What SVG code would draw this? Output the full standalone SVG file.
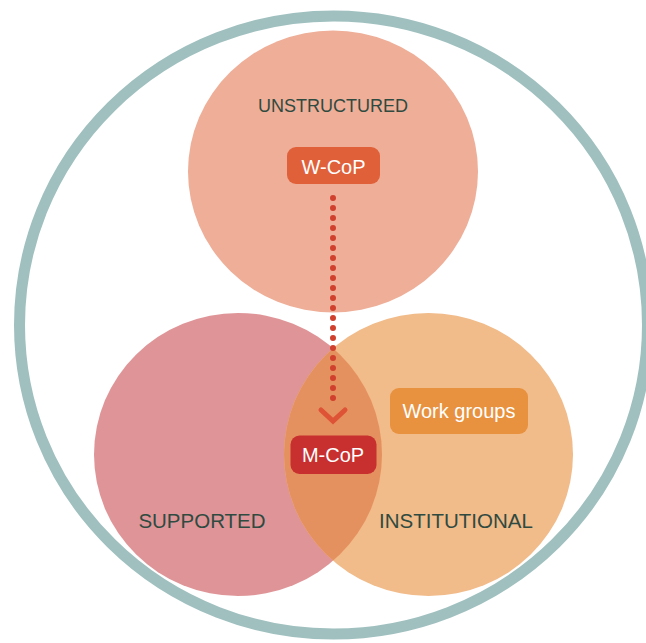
<svg xmlns="http://www.w3.org/2000/svg" width="646" height="643" viewBox="0 0 646 643">
<defs>
<style>
.lbl{font-family:"Liberation Sans",Arial,sans-serif;fill:#2f4a40;text-anchor:middle}
.btxt{font-family:"Liberation Sans",Arial,sans-serif;fill:#ffffff;text-anchor:middle;font-size:20px}
</style>
<clipPath id="clipRight"><ellipse cx="428.5" cy="454.5" rx="144.5" ry="141.5"/></clipPath>
</defs>
<rect width="646" height="643" fill="#ffffff"/>
<g id="outer"><ellipse cx="333.5" cy="325" rx="314" ry="309" fill="none" stroke="#9fc0bf" stroke-width="11"/></g>
<g id="unstructured">
<ellipse cx="333" cy="171.5" rx="145" ry="141" fill="#eeae98"/>
<text class="lbl" x="333" y="112" font-size="18">UNSTRUCTURED</text>
</g>
<g id="supported">
<ellipse cx="238" cy="454.5" rx="144" ry="141.5" fill="#df9598"/>
<text class="lbl" x="202" y="528" font-size="20.5">SUPPORTED</text>
</g>
<g id="institutional">
<ellipse cx="428.5" cy="454.5" rx="144.5" ry="141.5" fill="#f1bb8a"/>
<text class="lbl" x="456" y="528" font-size="20.5">INSTITUTIONAL</text>
</g>
<g id="overlap">
<ellipse cx="238" cy="454.5" rx="144" ry="141.5" fill="#e5915f" clip-path="url(#clipRight)"/>
</g>
<g id="connectors">
<line x1="333" y1="198" x2="333" y2="408" stroke="#d0402c" stroke-width="6" stroke-linecap="round" stroke-dasharray="0 10"/>
<polyline points="321,410 333,421 345,410" fill="none" stroke="#de5236" stroke-width="5" stroke-linecap="round" stroke-linejoin="miter"/>
</g>
<g id="wcop">
<rect x="287" y="147" width="93" height="37" rx="9" fill="#e0603a"/>
<text class="btxt" x="333.5" y="174">W-CoP</text>
</g>
<g id="mcop">
<rect x="290.5" y="435.5" width="86" height="38.5" rx="9" fill="#c8302f"/>
<text class="btxt" x="333" y="462">M-CoP</text>
</g>
<g id="workgroups">
<rect x="390" y="388" width="138" height="46" rx="9" fill="#e8913e"/>
<text class="btxt" x="459" y="418">Work groups</text>
</g>
</svg>
